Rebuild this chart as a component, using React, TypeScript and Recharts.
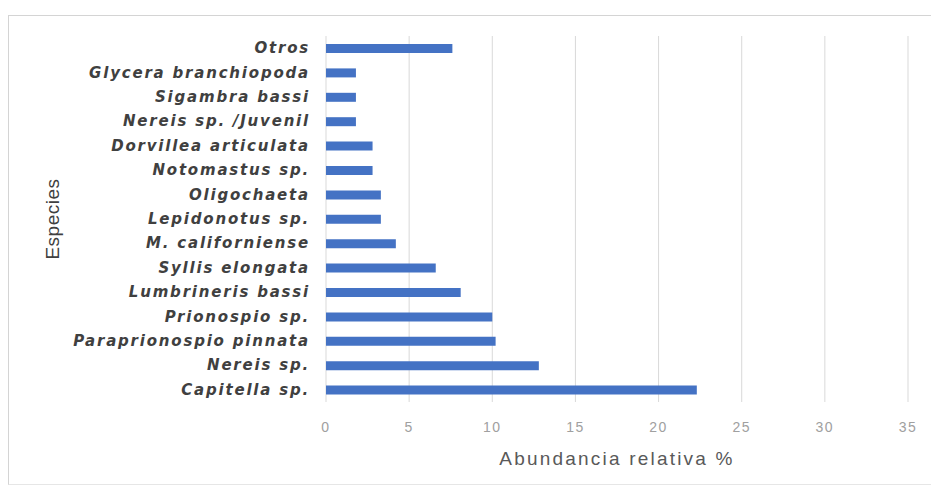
import { Bar, BarChart, CartesianGrid, Label, XAxis, YAxis } from "recharts";

// species listed top to bottom as they appear on the axis
const species = [
  "Otros",
  "Glycera branchiopoda",
  "Sigambra bassi",
  "Nereis sp. /Juvenil",
  "Dorvillea articulata",
  "Notomastus sp.",
  "Oligochaeta",
  "Lepidonotus sp.",
  "M. californiense",
  "Syllis elongata",
  "Lumbrineris bassi",
  "Prionospio sp.",
  "Paraprionospio pinnata",
  "Nereis sp.",
  "Capitella sp.",
];

// relative abundance, %
const abundance = [
  7.6, 1.8, 1.8, 1.8, 2.8, 2.8, 3.3, 3.3, 4.2, 6.6, 8.1, 10.0, 10.2, 12.8, 22.3,
];

const xTicks = [0, 5, 10, 15, 20, 25, 30, 35];

const data = species.map((name, i) => ({ name, value: abundance[i] }));

function SpeciesTick(props: any) {
  const { x, y, payload } = props;
  return (
    <text
      x={x}
      y={y}
      dy={5}
      textAnchor="end"
      fill="#404040"
      fontFamily="DejaVu Sans"
      fontWeight="bold"
      fontStyle="italic"
      fontSize={15}
      letterSpacing={1.8}
    >
      {payload.value}
    </text>
  );
}

export default function App() {
  return (
    <div
      style={{
        position: "absolute",
        left: 8,
        top: 15,
        width: 923,
        height: 470,
        borderTop: "1px solid #d4d4d4",
        borderLeft: "1px solid #d4d4d4",
        borderBottom: "1px solid #e6e6e6",
        boxSizing: "border-box",
        background: "#fff",
      }}
    >
      <BarChart
        width={922}
        height={468}
        data={data}
        layout="vertical"
        margin={{ top: 20, right: 23, bottom: 0, left: 0 }}
      >
        <CartesianGrid horizontal={false} stroke="#d9d9d9" />
        <XAxis
          type="number"
          domain={[0, 35]}
          ticks={xTicks}
          axisLine={false}
          tickLine={false}
          tickSize={0}
          tickMargin={20}
          height={82}
          tick={{
            fill: "#a0a0a0",
            fontSize: 14,
            fontFamily: "Liberation Sans",
            letterSpacing: 1.5,
          }}
        >
          <Label
            value="Abundancia relativa %"
            position="insideBottom"
            offset={19}
            fill="#595959"
            fontSize={19}
            fontFamily="Liberation Sans"
            letterSpacing={2.2}
          />
        </XAxis>
        <YAxis
          type="category"
          dataKey="name"
          width={317}
          axisLine={false}
          tickLine={false}
          tickSize={0}
          tickMargin={16}
          interval={0}
          tick={<SpeciesTick />}
        >
          <Label
            value="Especies"
            angle={-90}
            position="insideLeft"
            offset={43}
            fill="#404040"
            fontSize={19}
            fontFamily="Liberation Sans"
            letterSpacing={0.5}
            style={{ textAnchor: "middle" }}
          />
        </YAxis>
        <Bar dataKey="value" fill="#4472c4" barSize={9} isAnimationActive={false} />
      </BarChart>
    </div>
  );
}
